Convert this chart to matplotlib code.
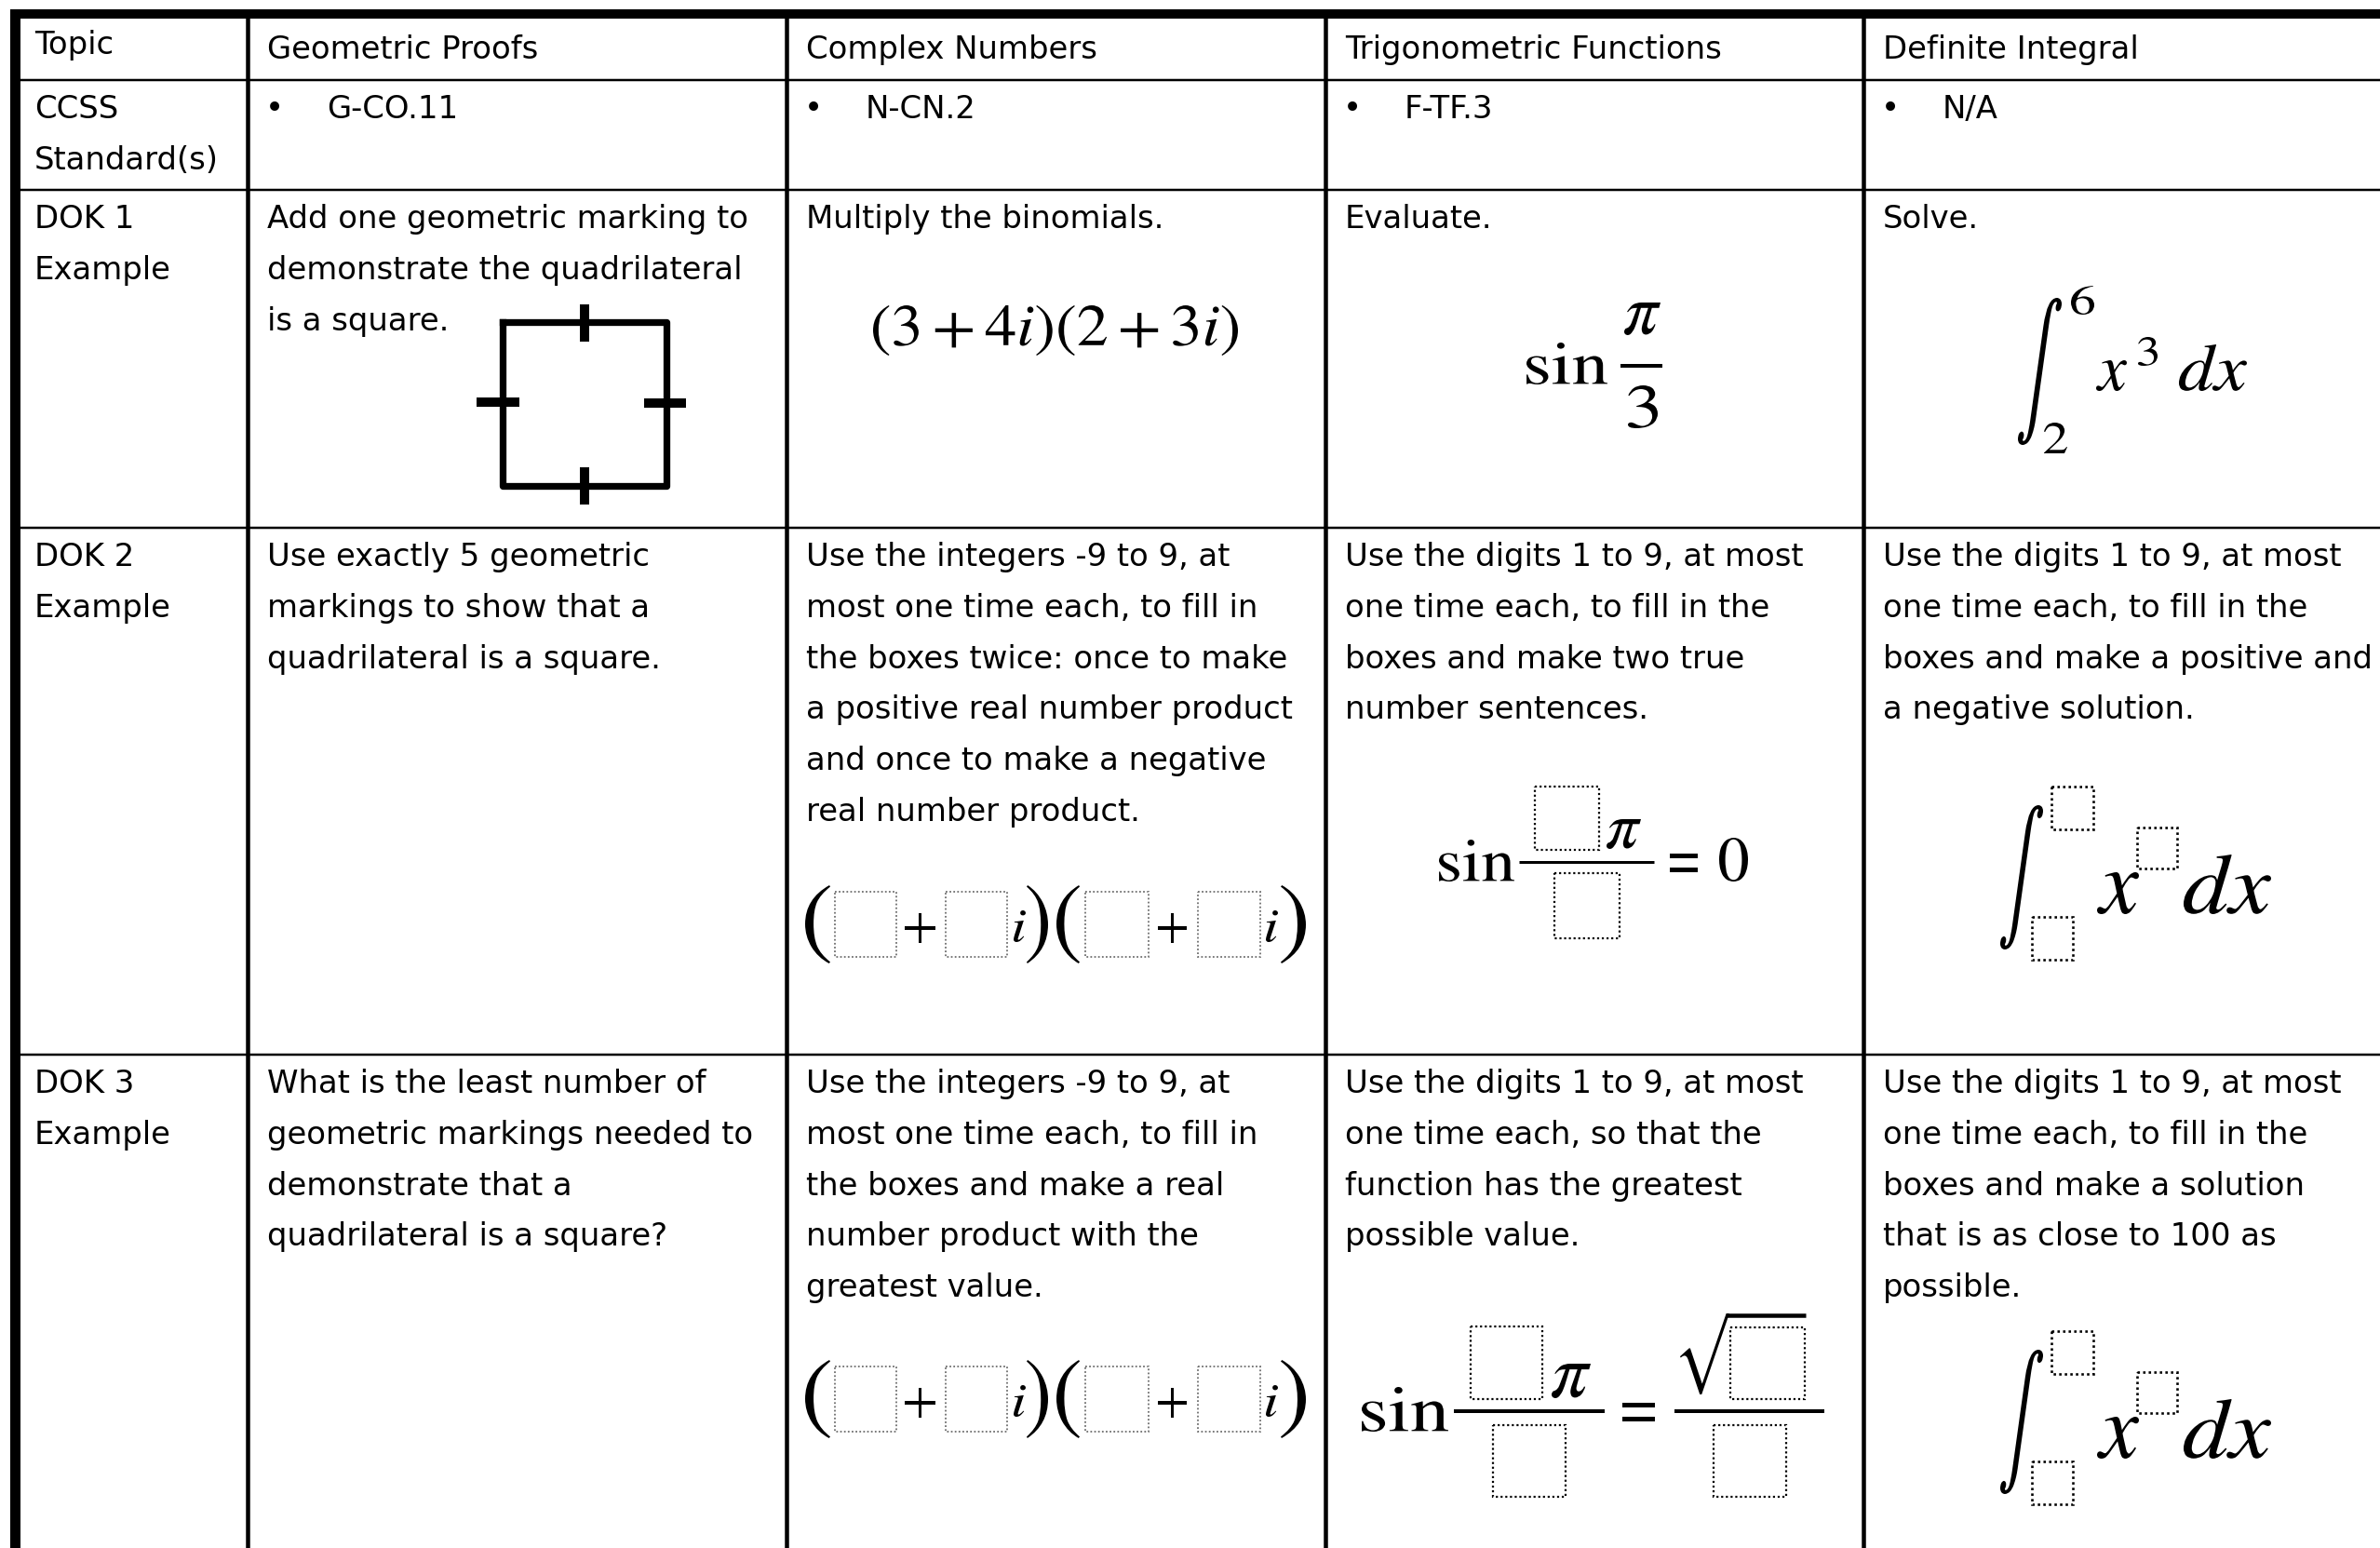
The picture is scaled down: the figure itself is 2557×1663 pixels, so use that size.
import matplotlib
matplotlib.use("Agg")
import matplotlib.pyplot as plt
import matplotlib.transforms as mtransforms
from matplotlib.font_manager import FontProperties
from matplotlib.patches import PathPatch, Rectangle
from matplotlib.textpath import TextPath

plt.rcParams['mathtext.fontset'] = 'stix'
plt.rcParams['font.family'] = 'DejaVu Sans'

W, H, DPI = 2557, 1663, 100
PT = 72 / DPI  # points per pixel

# table content
header = ["Topic", "Geometric Proofs", "Complex Numbers",
          "Trigonometric Functions", "Definite Integral"]
row_labels = [["CCSS", "Standard(s)"], ["DOK 1", "Example"],
              ["DOK 2", "Example"], ["DOK 3", "Example"]]
standards = ["G-CO.11", "N-CN.2", "F-TF.3", "N/A"]

dok1 = [["Add one geometric marking to", "demonstrate the quadrilateral", "is a square."],
        ["Multiply the binomials."],
        ["Evaluate."],
        ["Solve."]]
dok2 = [["Use exactly 5 geometric", "markings to show that a", "quadrilateral is a square."],
        ["Use the integers -9 to 9, at", "most one time each, to fill in",
         "the boxes twice: once to make", "a positive real number product",
         "and once to make a negative", "real number product."],
        ["Use the digits 1 to 9, at most", "one time each, to fill in the",
         "boxes and make two true", "number sentences."],
        ["Use the digits 1 to 9, at most", "one time each, to fill in the",
         "boxes and make a positive and", "a negative solution."]]
dok3 = [["What is the least number of", "geometric markings needed to",
         "demonstrate that a", "quadrilateral is a square?"],
        ["Use the integers -9 to 9, at", "most one time each, to fill in",
         "the boxes and make a real", "number product with the", "greatest value."],
        ["Use the digits 1 to 9, at most", "one time each, so that the",
         "function has the greatest", "possible value."],
        ["Use the digits 1 to 9, at most", "one time each, to fill in the",
         "boxes and make a solution", "that is as close to 100 as", "possible."]]

col_x = [16, 266, 845, 1424, 2002]
row_y = [15, 86, 204, 567, 1133]
LINE = 54.8
FS = 24.4

fig = plt.figure(figsize=(W / DPI, H / DPI), dpi=DPI)
ax = fig.add_axes([0, 0, 1, 1])
ax.set_xlim(0, W)
ax.set_ylim(H, 0)
ax.axis('off')

# grid lines
ax.hlines(row_y[1:], 11, W, color='black', lw=2.5 * PT)
ax.vlines(col_x[1:], 10, H, color='black', lw=4.5 * PT)
ax.hlines(row_y[0], 11, W, color='black', lw=10 * PT)
ax.vlines(col_x[0], 10, H, color='black', lw=11 * PT)


def cell(col, top, lines, first=41):
    x = 37 if col == 0 else col_x[col] + 21
    for k, s in enumerate(lines):
        ax.text(x, top + first + k * LINE, s, fontsize=FS, va='baseline', ha='left')


cell(0, row_y[0], [header[0]], first=43)
for c in range(1, 5):
    cell(c, row_y[0], [header[c]], first=48)

for r in range(4):
    cell(0, row_y[r + 1], row_labels[r])

for c, code in enumerate(standards, start=1):
    ax.text(col_x[c] + 29, row_y[1] + 41, "\u2022", fontsize=FS, va='baseline', ha='center')
    ax.text(col_x[c] + 85, row_y[1] + 41, code, fontsize=FS, va='baseline', ha='left')

for r, texts in zip([2, 3, 4], [dok1, dok2, dok3]):
    for c, lines in enumerate(texts, start=1):
        cell(c, row_y[r], lines)


# math helpers: fit a glyph's ink into a pixel box
def glyph(s, box, color='black'):
    x0, y0, x1, y1 = box
    path = TextPath((0, 0), s, size=100, prop=FontProperties(family='STIXGeneral'))
    ext = path.get_extents()
    tr = (mtransforms.Affine2D().translate(-ext.x0, -ext.y1)
          .scale((x1 - x0) / ext.width, -(y1 - y0) / ext.height)
          .translate(x0, y0))
    ax.add_patch(PathPatch(tr.transform_path(path), fc=color, ec='none'))


def blank(box, color='black', lw=2.2):
    x0, y0, x1, y1 = box
    ax.add_patch(Rectangle((x0, y0), x1 - x0, y1 - y0, fill=False, ec=color,
                           lw=lw * PT, ls=(0, (1, 1.3))))


def bar(x0, x1, y, lw=3.5):
    ax.plot([x0, x1], [y, y], color='black', lw=lw * PT, solid_capstyle='butt')


# DOK 1 square with tick marks
ax.plot([540.5, 716, 716, 540.5, 540.5], [345.5, 345.5, 521.5, 521.5, 345.5], color='black',
        lw=7.3 * PT, solid_joinstyle='round')
ax.plot([628, 628], [327, 367], color='black', lw=10 * PT, solid_capstyle='butt')
ax.plot([628, 628], [502, 542], color='black', lw=10 * PT, solid_capstyle='butt')
ax.plot([512, 558], [431.5, 431.5], color='black', lw=10 * PT, solid_capstyle='butt')
ax.plot([692, 737], [432.5, 432.5], color='black', lw=10 * PT, solid_capstyle='butt')

# DOK 1 complex
glyph(r"$(3+4i)(2+3i)$", (938, 328, 1330, 382))

# DOK 1 trig
glyph("sin", (1640, 368, 1727, 413))
glyph(r"$\pi$", (1745, 325, 1784, 360))
bar(1741, 1786, 393, 4)
glyph("3", (1749, 414, 1781, 460))

# DOK 1 integral
glyph(r"$\int$", (2168, 320, 2215, 478))
glyph("6", (2225, 307, 2250, 338))
glyph("2", (2196, 454, 2221, 487))
glyph(r"$x$", (2252, 387, 2285, 420))
glyph("3", (2297, 362, 2318, 393))
glyph(r"$dx$", (2341, 370, 2414, 420))

# DOK 2 / DOK 3 complex with blanks
for dy in (0, 510):
    glyph("(", (865, 951 + dy, 892, 1035 + dy))
    blank((897, 958 + dy, 963, 1028 + dy), color='#6e6e6e', lw=1.8)
    glyph("+", (972, 981 + dy, 1005, 1013 + dy))
    blank((1016, 958 + dy, 1082, 1028 + dy), color='#6e6e6e', lw=1.8)
    glyph(r"$i$", (1089, 978 + dy, 1102, 1012 + dy))
    glyph(")", (1103, 951 + dy, 1126, 1035 + dy))
    glyph("(", (1135, 951 + dy, 1160, 1035 + dy))
    blank((1166, 958 + dy, 1234, 1028 + dy), color='#6e6e6e', lw=1.8)
    glyph("+", (1244, 981 + dy, 1275, 1013 + dy))
    blank((1287, 958 + dy, 1354, 1028 + dy), color='#6e6e6e', lw=1.8)
    glyph(r"$i$", (1360, 978 + dy, 1373, 1012 + dy))
    glyph(")", (1376, 951 + dy, 1403, 1035 + dy))

# DOK 2 trig
glyph("sin", (1546, 902, 1627, 947))
bar(1632, 1777, 926, 3)
blank((1649, 845, 1718, 913))
glyph(r"$\pi$", (1726, 880, 1763, 912))
blank((1670, 938, 1740, 1008))
glyph("=", (1794, 917, 1824, 937))
glyph("0", (1847, 900, 1878, 947))

# DOK 3 trig
glyph("sin", (1463, 1490, 1556, 1538))
bar(1562, 1724, 1516, 4)
blank((1580, 1425, 1657, 1503))
glyph(r"$\pi$", (1667, 1465, 1709, 1502))
blank((1604, 1531, 1682, 1608))
glyph("=", (1743, 1507, 1778, 1527))
bar(1799, 1960, 1516, 4)
glyph("\u221a", (1805, 1411, 1858, 1498))
bar(1855, 1940, 1413, 4.5)
blank((1859, 1426, 1939, 1503))
blank((1841, 1531, 1919, 1608))

# DOK 2 / DOK 3 integrals with blanks
for dy in (0, 585):
    glyph(r"$\int$", (2149, 865 + dy, 2195, 1020 + dy))
    blank((2204, 845 + dy, 2249, 891 + dy), lw=2.6)
    blank((2183, 985 + dy, 2227, 1031 + dy), lw=2.6)
    glyph(r"$x$", (2253, 937 + dy, 2298, 982 + dy))
    blank((2296, 889 + dy, 2339, 933 + dy), lw=2.6)
    glyph(r"$dx$", (2346, 918 + dy, 2440, 982 + dy))

fig.savefig("out.png", dpi=DPI)
